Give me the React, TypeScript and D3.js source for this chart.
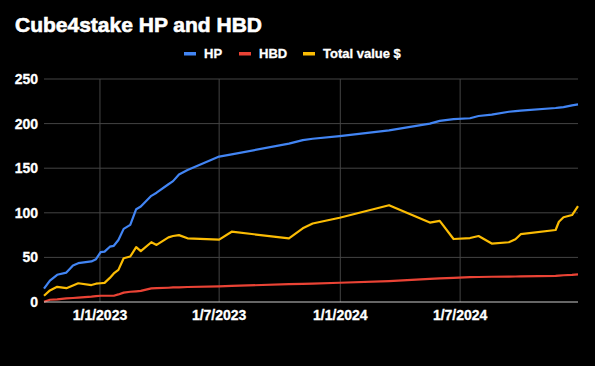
import React from "react";
import { scaleTime, scaleLinear, line, timeParse, extent } from "d3";

// readings from the reference chart
const dates = [
  "2022-10-08", "2022-10-17", "2022-10-28", "2022-11-11", "2022-11-21", "2022-11-29",
  "2022-12-19", "2022-12-26", "2023-01-02", "2023-01-08", "2023-01-16", "2023-01-22",
  "2023-01-29", "2023-02-06", "2023-02-16", "2023-02-25", "2023-03-04", "2023-03-20",
  "2023-03-28", "2023-04-15", "2023-04-22", "2023-05-01", "2023-05-14", "2023-07-01",
  "2023-07-20", "2023-10-15", "2023-11-05", "2023-11-20", "2023-12-31", "2024-03-15",
  "2024-05-16", "2024-05-31", "2024-06-21", "2024-07-16", "2024-07-29", "2024-08-18",
  "2024-09-13", "2024-09-23", "2024-10-01", "2024-11-23", "2024-11-28", "2024-12-05",
  "2024-12-18", "2024-12-27",
];

const hp = [
  15, 24, 30.5, 33, 41, 43.5, 45.5, 48, 56, 56.5, 62, 63,
  69.5, 82, 86.5, 104, 107, 119, 122.5, 132, 135.5, 143, 148, 163,
  165.5, 177.5, 181.5, 183, 186, 192.5, 200, 203, 205, 206, 208.5, 210,
  213.3, 214, 214.5, 217.5, 218, 218.5, 220.5, 221.5,
];

const hbd = [
  0.3, 2.5, 3, 4, 4.5, 5, 6, 6.5, 7, 7, 7, 7,
  8.5, 10.5, 11.5, 12, 12.5, 15.3, 15.5, 16, 16.3, 16.5, 16.8, 17.5,
  18, 20, 20.3, 20.7, 21.6, 23.5, 26, 26.5, 27, 27.8, 28, 28.3,
  28.5, 28.6, 28.7, 29.2, 29.5, 30, 30.5, 31,
];

const total = [
  7, 13, 17, 15.5, 18.5, 21, 19, 20.5, 21, 21.5, 27, 32,
  36, 49, 51, 61.5, 57, 67, 64, 72.5, 74, 75, 71.4, 70,
  78.8, 71.4, 82.6, 88, 94.5, 108.5, 89, 91, 70.6, 71.7, 74, 65.5,
  67, 70.3, 76, 80.7, 90, 95, 97.5, 107.5,
];

const xTicks = ["2023-01-01", "2023-07-01", "2024-01-01", "2024-07-01"];
const xTickLabels = ["1/1/2023", "1/7/2023", "1/1/2024", "1/7/2024"];
const yTicks = [0, 50, 100, 150, 200, 250];

const seriesNames = ["HP", "HBD", "Total value $"];
const seriesColors = ["#4285F4", "#EA4335", "#FBBC04"];

const width = 595;
const height = 366;
const font = "'Liberation Sans', Arial, sans-serif";

export default function App() {
  const parse = timeParse("%Y-%m-%d");
  const parsed = dates.map(d => parse(d));

  const left = 44;
  const right = 578;
  const top = 79;
  const bottom = 302;

  const xScale = scaleTime()
    .domain(extent(parsed))
    .range([left, right]);

  const yScale = scaleLinear()
    .domain([0, 250])
    .range([bottom, top]);

  const series = [hp, hbd, total];

  const paths = series.map((values, i) => {
    const gen = line()
      .x((d, j) => xScale(parsed[j]))
      .y(d => yScale(d));
    return (
      <path
        key={i}
        d={gen(values)}
        fill="none"
        stroke={seriesColors[i]}
        strokeWidth={2.2}
        strokeLinejoin="round"
      />
    );
  });

  const hGrid = yTicks.map(t => (
    <g key={t}>
      <line
        x1={left}
        x2={right}
        y1={yScale(t)}
        y2={yScale(t)}
        stroke={t === 0 ? "#cccccc" : "#444444"}
        strokeWidth={1}
      />
      <text
        x={38}
        y={yScale(t)}
        dy="0.36em"
        textAnchor="end"
        fill="#ffffff"
        stroke="#ffffff"
        strokeWidth={0.3}
        fontSize={14}
        fontWeight="bold"
        fontFamily={font}
      >
        {t}
      </text>
    </g>
  ));

  const vGrid = xTicks.map((t, i) => {
    const x = xScale(parse(t));
    return (
      <g key={t}>
        <line x1={x} x2={x} y1={top} y2={bottom} stroke="#444444" strokeWidth={1} />
        <text
          x={x}
          y={320}
          textAnchor="middle"
          fill="#ffffff"
          stroke="#ffffff"
          strokeWidth={0.3}
          fontSize={14}
          fontWeight="bold"
          fontFamily={font}
        >
          {xTickLabels[i]}
        </text>
      </g>
    );
  });

  // legend positions
  const legendX = [184, 239, 303];
  const legend = seriesNames.map((name, i) => (
    <g key={name}>
      <rect x={legendX[i]} y={52} width={12} height={3.5} fill={seriesColors[i]} />
      <text
        x={legendX[i] + 20}
        y={53.5}
        dy="0.36em"
        fill="#ffffff"
        stroke="#ffffff"
        strokeWidth={0.3}
        fontSize={13}
        fontWeight="bold"
        fontFamily={font}
      >
        {name}
      </text>
    </g>
  ));

  return (
    <svg
      width={width}
      height={height}
      viewBox={`0 0 ${width} ${height}`}
      style={{ position: "absolute", left: 0, top: 0, background: "#000" }}
    >
      <rect x={0} y={0} width={width} height={height} fill="#000000" />
      <text
        x={15}
        y={32}
        fill="#ffffff"
        stroke="#ffffff"
        strokeWidth={0.6}
        fontSize={21}
        fontWeight="bold"
        fontFamily={font}
      >
        Cube4stake HP and HBD
      </text>
      {legend}
      {hGrid.filter((_, i) => i !== 0)}
      {vGrid}
      {paths}
      {hGrid[0]}
    </svg>
  );
}
